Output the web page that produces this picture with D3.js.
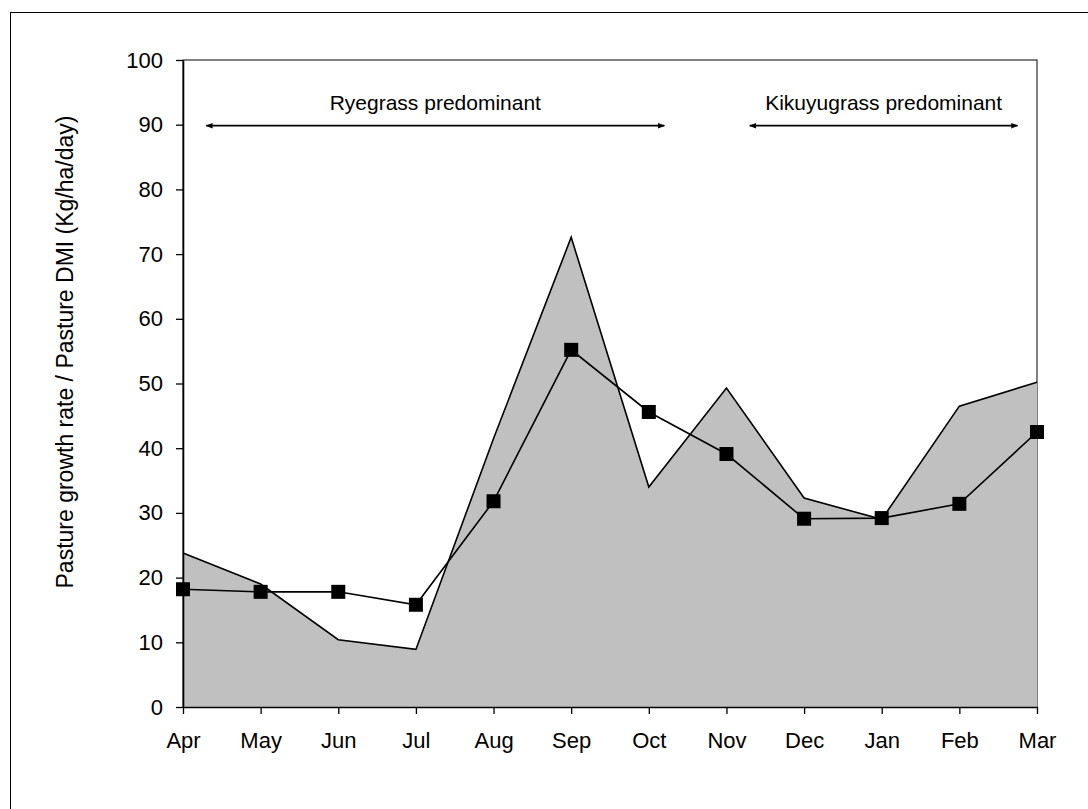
<!DOCTYPE html>
<html>
<head>
<meta charset="utf-8">
<script src="https://cdn.jsdelivr.net/npm/d3@7"></script>
<style>
  body { margin: 0; background: #fff; }
  svg text { font-family: Arial, "Liberation Sans", sans-serif; fill: #000; }
</style>
</head>
<body>
<svg width="1088" height="809"></svg>
<script>
// months on the x axis
const months = ["Apr", "May", "Jun", "Jul", "Aug", "Sep", "Oct", "Nov", "Dec", "Jan", "Feb", "Mar"];
// pasture growth rate (grey area)
const growthRate = [23.8, 19.0, 10.4, 8.9, 41.5, 72.6, 34.0, 49.3, 32.3, 29.0, 46.5, 50.2];
// pasture DMI (line with squares)
const dmi = [18.2, 17.8, 17.8, 15.8, 31.8, 55.2, 45.6, 39.1, 29.1, 29.2, 31.4, 42.5];
const yTicks = [0, 10, 20, 30, 40, 50, 60, 70, 80, 90, 100];
// season spans drawn as double arrows at y = 90
const seasons = [
  { label: "Ryegrass predominant", from: 0.3, to: 6.2 },
  { label: "Kikuyugrass predominant", from: 7.3, to: 10.75 }
];

const svg = d3.select("svg");
const margin = { left: 183, right: 1037, top: 60, bottom: 707 };

// outer chart border
svg.append("rect")
  .attr("x", 10.5).attr("y", 12.5)
  .attr("width", 1100).attr("height", 820)
  .attr("fill", "none").attr("stroke", "#000").attr("stroke-width", 1);

const x = d3.scalePoint().domain(months).range([margin.left, margin.right]);
const xi = d3.scaleLinear().domain([0, months.length - 1]).range([margin.left, margin.right]);
const y = d3.scaleLinear().domain([0, 100]).range([margin.bottom, margin.top]);

svg.append("defs").append("marker")
  .attr("id", "arr")
  .attr("viewBox", "0 0 10 10")
  .attr("refX", 9).attr("refY", 5)
  .attr("markerWidth", 9).attr("markerHeight", 7)
  .attr("markerUnits", "userSpaceOnUse")
  .attr("orient", "auto-start-reverse")
  .append("path")
  .attr("d", "M0,1 L10,5 L0,9 Z")
  .attr("fill", "#000");

// plot area frame
svg.append("rect")
  .attr("x", margin.left).attr("y", margin.top)
  .attr("width", margin.right - margin.left)
  .attr("height", margin.bottom - margin.top)
  .attr("fill", "none").attr("stroke", "#000").attr("stroke-width", 1);

const area = d3.area()
  .x((d, i) => x(months[i]))
  .y0(y(0))
  .y1(d => y(d));

svg.append("path")
  .datum(growthRate)
  .attr("d", area)
  .attr("fill", "#c0c0c0");

const line = d3.line().x((d, i) => x(months[i])).y(d => y(d));

svg.append("path")
  .datum(growthRate)
  .attr("d", line)
  .attr("fill", "none")
  .attr("stroke", "#000")
  .attr("stroke-width", 1.6);

svg.append("path")
  .datum(dmi)
  .attr("d", line)
  .attr("fill", "none")
  .attr("stroke", "#000")
  .attr("stroke-width", 1.6);

const sq = 14;
svg.append("g").selectAll("rect")
  .data(dmi)
  .join("rect")
  .attr("x", (d, i) => x(months[i]) - sq / 2)
  .attr("y", d => y(d) - sq / 2)
  .attr("width", sq).attr("height", sq)
  .attr("fill", "#000");

// axes
const yAxis = svg.append("g")
  .attr("transform", `translate(${margin.left},0)`)
  .call(d3.axisLeft(y).tickValues(yTicks).tickSize(7).tickPadding(13).tickSizeOuter(0));

const xAxis = svg.append("g")
  .attr("transform", `translate(0,${margin.bottom})`)
  .call(d3.axisBottom(x).tickSize(7).tickPadding(18).tickSizeOuter(0));

[xAxis, yAxis].forEach(g => {
  g.selectAll("text").attr("font-size", 22).attr("font-family", "Arial, 'Liberation Sans', sans-serif");
  g.selectAll("line").attr("stroke", "#000").attr("stroke-width", 1.3);
  g.select(".domain").attr("stroke", "#000").attr("stroke-width", 1.6);
});

// season annotations
seasons.forEach(s => {
  const x1 = xi(s.from), x2 = xi(s.to);
  svg.append("line")
    .attr("x1", x1).attr("x2", x2)
    .attr("y1", y(90) + 1).attr("y2", y(90) + 1)
    .attr("stroke", "#000").attr("stroke-width", 1.8)
    .attr("marker-start", "url(#arr)")
    .attr("marker-end", "url(#arr)");
  svg.append("text")
    .attr("x", (x1 + x2) / 2)
    .attr("y", 110)
    .attr("text-anchor", "middle")
    .attr("font-size", 21)
    .text(s.label);
});

// y axis title
svg.append("text")
  .attr("transform", `translate(73,352) rotate(-90)`)
  .attr("text-anchor", "middle")
  .attr("font-size", 23)
  .text("Pasture growth rate / Pasture DMI (Kg/ha/day)");
</script>
</body>
</html>
